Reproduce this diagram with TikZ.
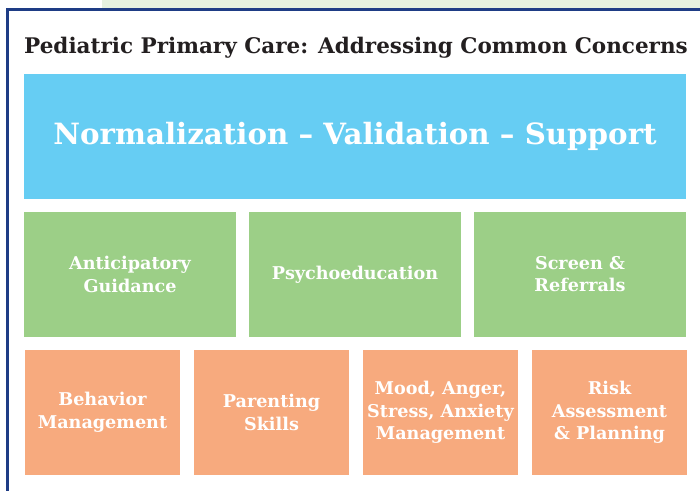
\documentclass[tikz,border=0pt]{standalone}
\usepackage{fontspec}
\setmainfont{DejaVu Serif}
\usetikzlibrary{positioning}

\definecolor{framecol}{HTML}{1E3C85}
\definecolor{stripcol}{HTML}{E5F0DF}
\definecolor{titlecol}{HTML}{231F20}
\definecolor{bluecol}{HTML}{66CDF3}
\definecolor{greencol}{HTML}{9CCF87}
\definecolor{orangecol}{HTML}{F7AA7E}

\begin{document}
\begin{tikzpicture}[
    x=1pt, y=-1pt,
    % box styles
    basic/.style={fill, draw=none, inner sep=0pt, align=center, text=white,
        font=\bfseries\fontsize{17.6}{22.5}\selectfont},
    band/.style={basic, fill=bluecol, minimum width=662pt, minimum height=125pt,
        font=\bfseries\fontsize{29.3}{34}\selectfont},
    area/.style={basic, fill=greencol, minimum width=212pt, minimum height=124.5pt},
    skill/.style={basic, fill=orangecol, minimum width=155pt, minimum height=125pt},
    frame/.style={draw=framecol, line width=2.5pt}
]
\useasboundingbox (0,0) rectangle (700,491);

% --- background and frame ---
\fill[stripcol] (102,0) rectangle (700,8);
\coordinate (F-top) at (700,9.5);
\coordinate (F-corner) at (7.5,9.5);
\coordinate (F-bottom) at (7.5,491);
\draw[frame] (F-top) -- (F-corner) -- (F-bottom);

% --- title ---
\node[anchor=base west, inner sep=0pt, text=titlecol,
    font=\bfseries\fontsize{21.5}{26}\selectfont] (title) at (24,53)
    {Pediatric Primary Care: Addressing Common Concerns};

% --- top band ---
\node[band] (N) at (355,136.5) {Normalization -- Validation -- Support};

% --- second row ---
\foreach \i/\t in {1/{Anticipatory\\Guidance}, 2/{Psychoeducation}, 3/{Screen \&\\Referrals}}
    \node[area] (G-\i) at (130+225*\i-225, 274.3) {\t};

% --- third row ---
\foreach \i/\t in {1/{Behavior\\Management}, 2/{Parenting\\Skills},
    3/{Mood, Anger,\\Stress, Anxiety\\Management}, 4/{Risk\\Assessment\\\& Planning}}
    \node[skill] (O-\i) at (102.5+169*\i-169, 412.5) {\t};

\end{tikzpicture}
\end{document}
